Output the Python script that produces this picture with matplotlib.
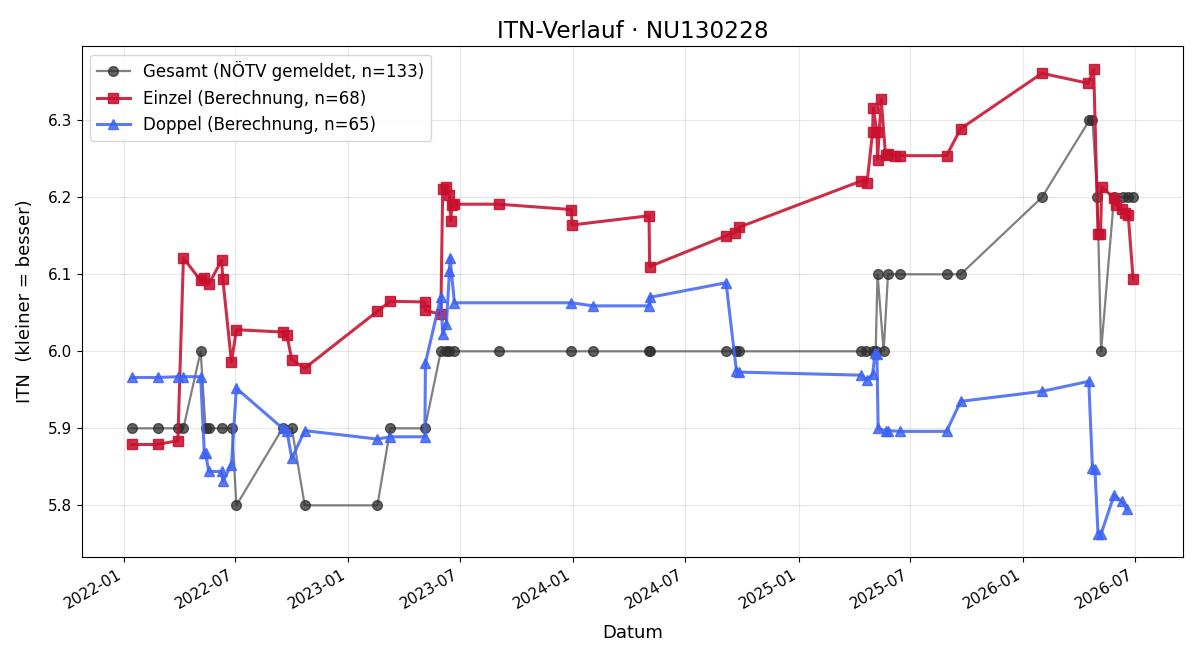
import matplotlib
matplotlib.use("Agg")
import matplotlib.pyplot as plt
import matplotlib.dates as mdates
import pandas as pd

gesamt_dates = ["2022-01-14", "2022-02-25", "2022-03-31", "2022-04-08", "2022-05-06", "2022-05-14",
                "2022-05-19", "2022-06-09", "2022-06-26", "2022-07-03", "2022-09-16", "2022-10-01",
                "2022-10-22", "2023-02-17", "2023-03-10", "2023-05-05", "2023-05-31", "2023-06-09",
                "2023-06-14", "2023-06-22", "2023-09-02", "2023-12-29", "2024-02-02", "2024-05-03",
                "2024-05-04", "2024-09-05", "2024-09-22", "2024-09-26", "2025-04-12", "2025-04-21",
                "2025-05-01", "2025-05-06", "2025-05-09", "2025-05-19", "2025-05-26", "2025-06-14",
                "2025-08-29", "2025-09-21", "2026-01-31", "2026-04-18", "2026-04-23", "2026-05-01",
                "2026-05-07", "2026-05-28", "2026-06-12", "2026-06-20", "2026-06-28"]
gesamt_vals = [5.9, 5.9, 5.9, 5.9, 6.0, 5.9,
               5.9, 5.9, 5.9, 5.8, 5.9, 5.9,
               5.8, 5.8, 5.9, 5.9, 6.0, 6.0,
               6.0, 6.0, 6.0, 6.0, 6.0, 6.0,
               6.0, 6.0, 6.0, 6.0, 6.0, 6.0,
               6.0, 6.0, 6.1, 6.0, 6.1, 6.1,
               6.1, 6.1, 6.2, 6.3, 6.3, 6.2,
               6.0, 6.2, 6.2, 6.2, 6.2]

einzel_dates = ["2022-01-14", "2022-02-25", "2022-03-30", "2022-04-08", "2022-05-06", "2022-05-12",
                "2022-05-19", "2022-06-09", "2022-06-11", "2022-06-25", "2022-07-03", "2022-09-16",
                "2022-09-23", "2022-10-01", "2022-10-22", "2023-02-17", "2023-03-10", "2023-05-05",
                "2023-05-06", "2023-05-31", "2023-06-03", "2023-06-09", "2023-06-14", "2023-06-16",
                "2023-06-18", "2023-06-22", "2023-09-02", "2023-12-29", "2023-12-30", "2024-05-03",
                "2024-05-04", "2024-09-05", "2024-09-20", "2024-09-26", "2025-04-12", "2025-04-22",
                "2025-05-01", "2025-05-02", "2025-05-08", "2025-05-09", "2025-05-15", "2025-05-22",
                "2025-05-26", "2025-06-06", "2025-06-14", "2025-08-29", "2025-09-21", "2026-01-31",
                "2026-04-16", "2026-04-25", "2026-05-02", "2026-05-06", "2026-05-08", "2026-05-28",
                "2026-05-31", "2026-06-10", "2026-06-15", "2026-06-20", "2026-06-28"]
einzel_vals = [5.879, 5.879, 5.884, 6.121, 6.092, 6.095,
               6.087, 6.118, 6.094, 5.986, 6.028, 6.025,
               6.021, 5.989, 5.978, 6.052, 6.065, 6.064,
               6.053, 6.048, 6.211, 6.213, 6.203, 6.169,
               6.190, 6.191, 6.191, 6.184, 6.164, 6.176,
               6.110, 6.150, 6.154, 6.161, 6.221, 6.219,
               6.285, 6.316, 6.285, 6.249, 6.327, 6.255,
               6.256, 6.254, 6.254, 6.254, 6.289, 6.361,
               6.348, 6.366, 6.152, 6.152, 6.213, 6.199,
               6.190, 6.185, 6.180, 6.177, 6.094]

doppel_dates = ["2022-01-14", "2022-02-25", "2022-03-31", "2022-04-08", "2022-05-06", "2022-05-12",
                "2022-05-14", "2022-05-19", "2022-06-09", "2022-06-11", "2022-06-25", "2022-07-03",
                "2022-09-16", "2022-09-23", "2022-10-01", "2022-10-22", "2023-02-17", "2023-03-10",
                "2023-05-05", "2023-05-06", "2023-05-31", "2023-06-03", "2023-06-09", "2023-06-14",
                "2023-06-15", "2023-06-22", "2023-12-29", "2024-02-02", "2024-05-03", "2024-05-04",
                "2024-09-05", "2024-09-22", "2024-09-26", "2025-04-12", "2025-04-22", "2025-05-01",
                "2025-05-05", "2025-05-08", "2025-05-10", "2025-05-22", "2025-05-26", "2025-06-14",
                "2025-08-29", "2025-09-21", "2026-01-31", "2026-04-17", "2026-04-23", "2026-04-27",
                "2026-05-02", "2026-05-07", "2026-05-28", "2026-06-10", "2026-06-18"]
doppel_vals = [5.966, 5.966, 5.967, 5.967, 5.967, 5.868,
               5.868, 5.844, 5.844, 5.831, 5.853, 5.952,
               5.900, 5.897, 5.861, 5.897, 5.886, 5.889,
               5.889, 5.985, 6.071, 6.022, 6.035, 6.104,
               6.121, 6.063, 6.063, 6.059, 6.059, 6.070,
               6.089, 5.974, 5.973, 5.969, 5.963, 5.970,
               5.998, 5.997, 5.900, 5.897, 5.897, 5.896,
               5.896, 5.935, 5.948, 5.961, 5.848, 5.847,
               5.763, 5.763, 5.813, 5.805, 5.795]

labels = ["Gesamt (NÖTV gemeldet, n=133)", "Einzel (Berechnung, n=68)", "Doppel (Berechnung, n=65)"]

fig, ax = plt.subplots(figsize=(12, 6.6), dpi=100)
fig.subplots_adjust(left=0.068, right=0.986, top=0.930, bottom=0.156)

ax.plot(pd.to_datetime(gesamt_dates), gesamt_vals, marker="o", color="#555555", alpha=0.75,
        lw=1.6, ms=7, mfc="#2e2e2e", mec="#2e2e2e", label=labels[0], zorder=2)
ax.plot(pd.to_datetime(einzel_dates), einzel_vals, marker="s", color="#c8102e", alpha=0.88,
        lw=2.2, ms=7.6, label=labels[1], zorder=3)
ax.plot(pd.to_datetime(doppel_dates), doppel_vals, marker="^", color="#3d63f5", alpha=0.85,
        lw=2.2, ms=7.6, label=labels[2], zorder=3)

ax.set_title("ITN-Verlauf · NU130228", fontsize=16.7)
ax.set_xlabel("Datum", fontsize=13, labelpad=9)
ax.set_ylabel("ITN  (kleiner = besser)", fontsize=13, labelpad=10)
ax.grid(True, alpha=0.3)
ax.xaxis.set_major_locator(mdates.MonthLocator(bymonth=[1, 7]))
ax.xaxis.set_major_formatter(mdates.DateFormatter("%Y-%m"))
ax.tick_params(labelsize=11)
ax.legend(loc="upper left", fontsize=12)
for lbl in ax.get_xticklabels():
    lbl.set_rotation(30)
    lbl.set_ha("right")
fig.savefig("out.png")
